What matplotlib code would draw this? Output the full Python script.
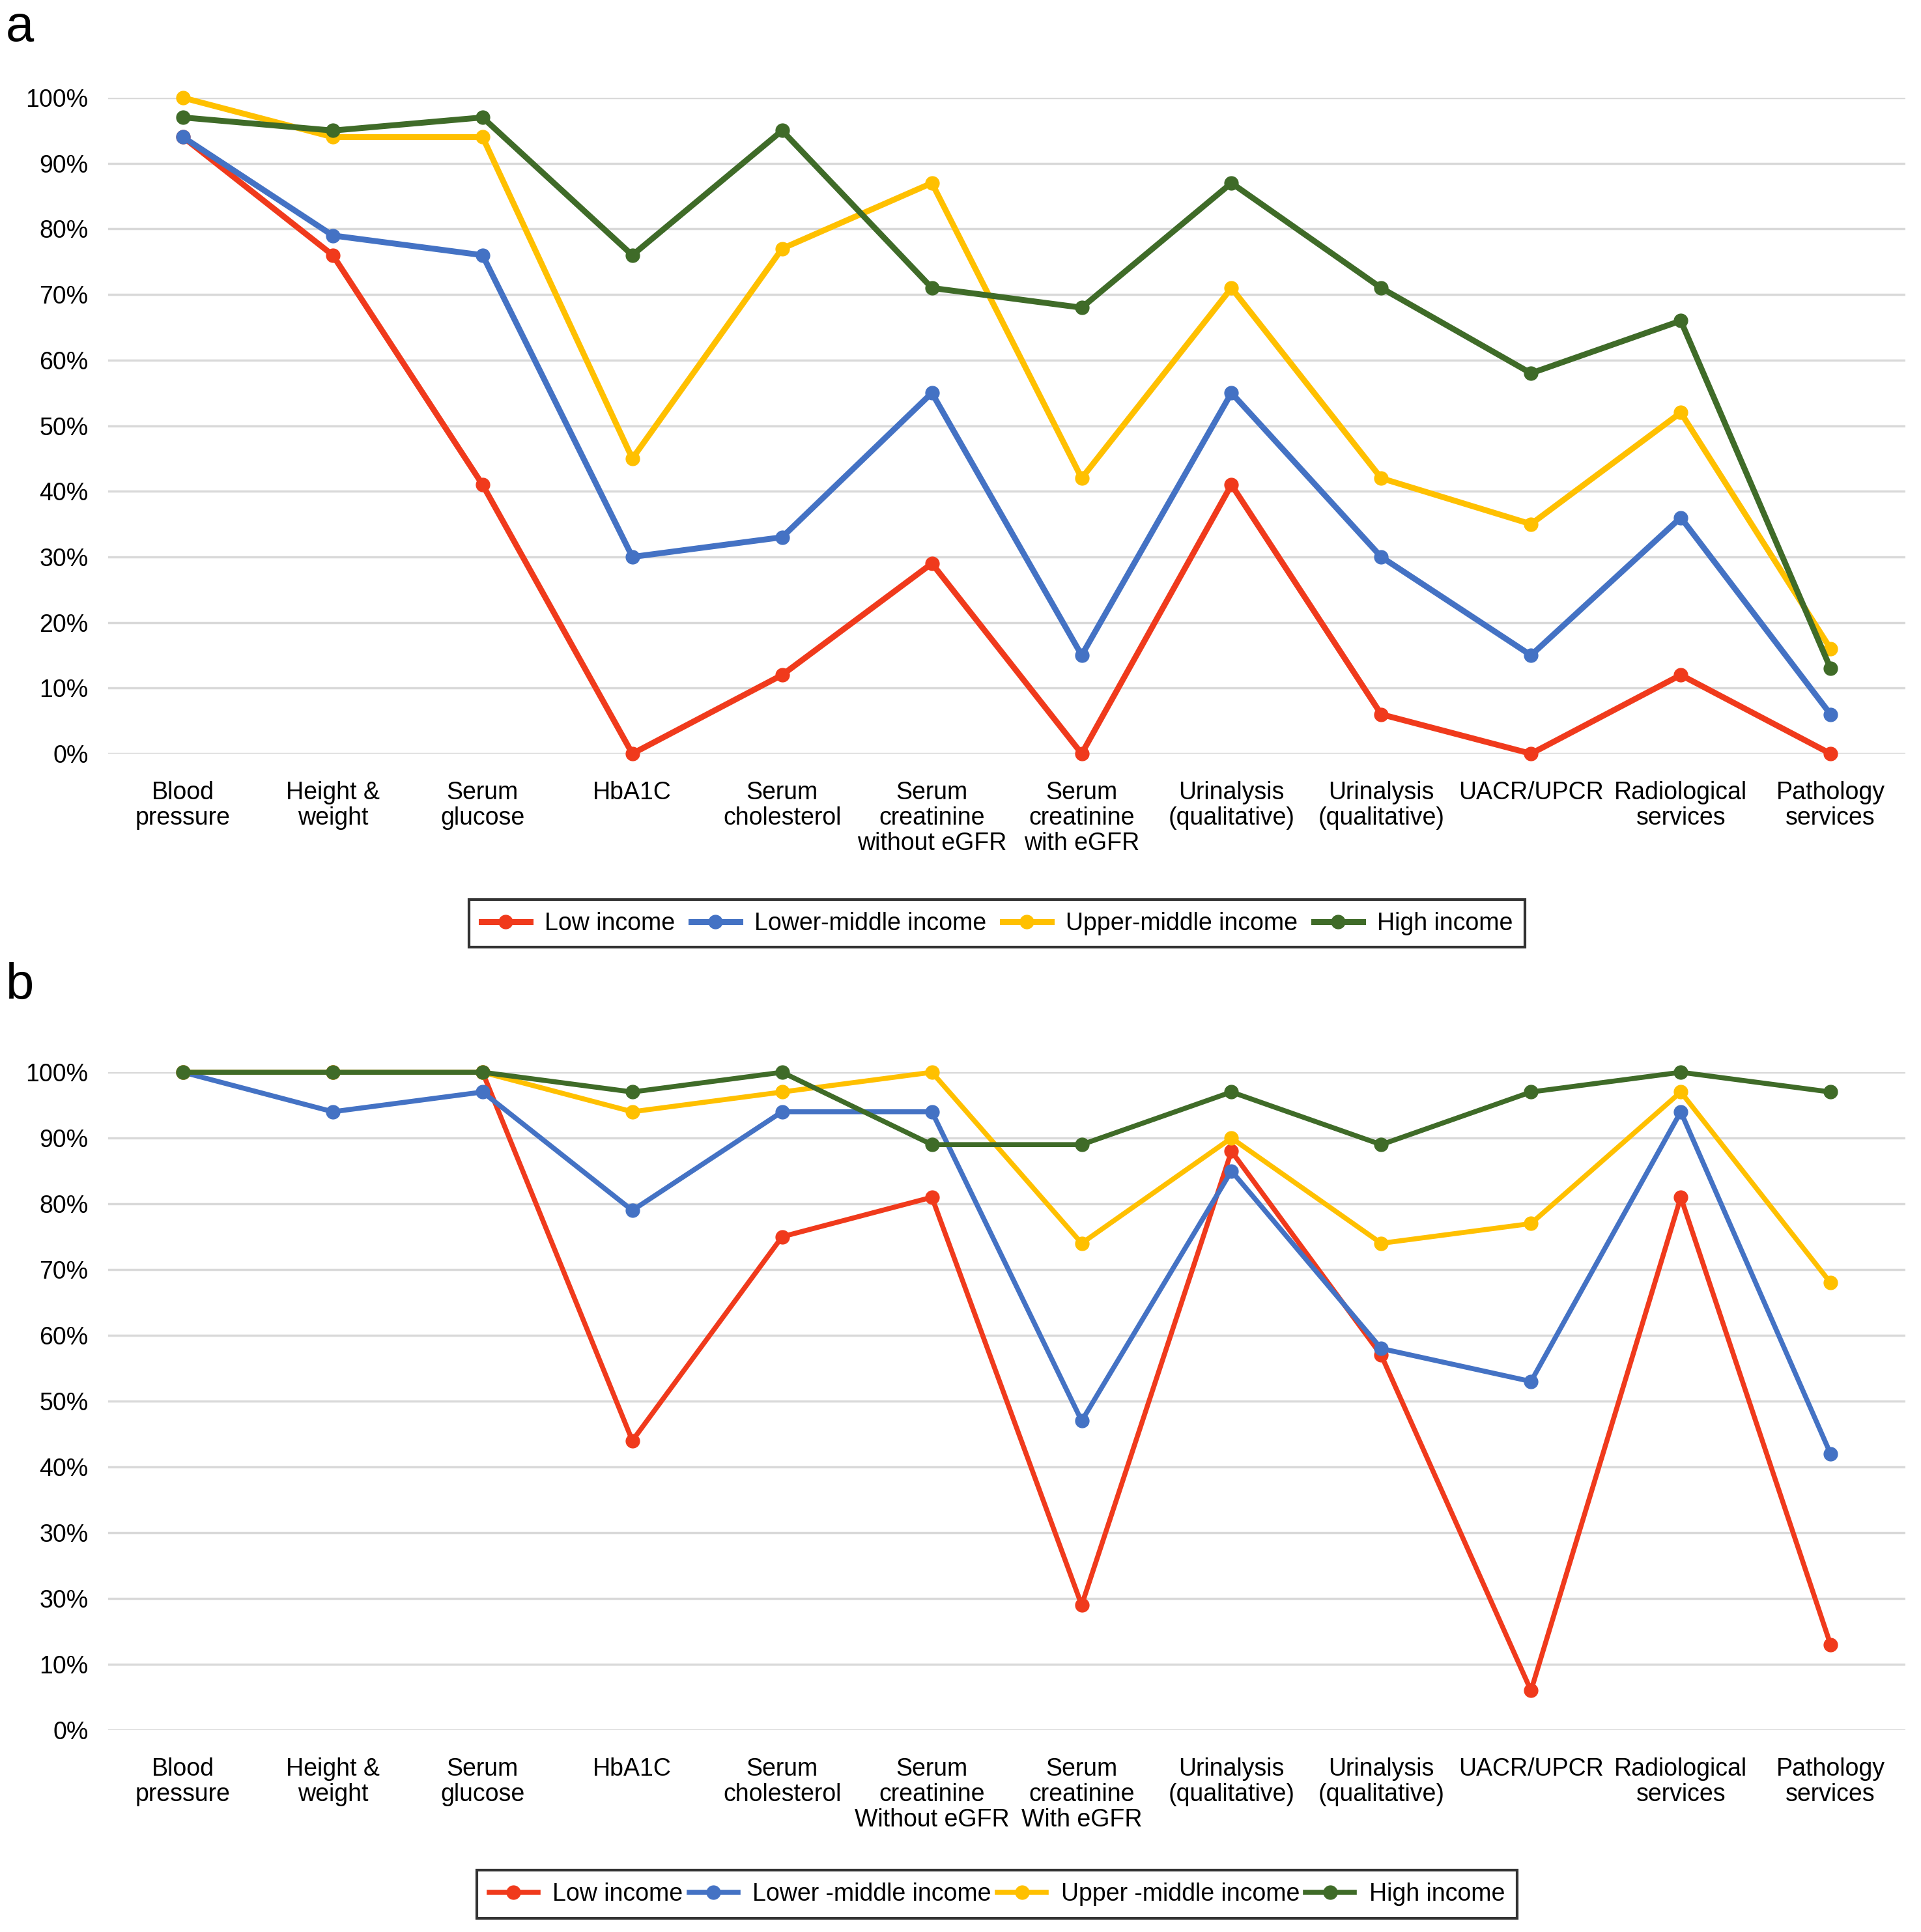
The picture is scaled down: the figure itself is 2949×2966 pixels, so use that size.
import matplotlib
matplotlib.use("Agg")
import matplotlib.pyplot as plt
from matplotlib import font_manager

# Fuente: preferir la versión estrecha si está instalada
nombres = {f.name for f in font_manager.fontManager.ttflist}
fuente = "Liberation Sans Narrow" if "Liberation Sans Narrow" in nombres else "Liberation Sans"
plt.rcParams["font.family"] = [fuente, "DejaVu Sans"]

# Datos
categorias_a = ["Blood\npressure", "Height &\nweight", "Serum\nglucose", "HbA1C",
                "Serum\ncholesterol", "Serum\ncreatinine\nwithout eGFR",
                "Serum\ncreatinine\nwith eGFR", "Urinalysis\n(qualitative)",
                "Urinalysis\n(qualitative)", "UACR/UPCR", "Radiological\nservices",
                "Pathology\nservices"]
categorias_b = ["Blood\npressure", "Height &\nweight", "Serum\nglucose", "HbA1C",
                "Serum\ncholesterol", "Serum\ncreatinine\nWithout eGFR",
                "Serum\ncreatinine\nWith eGFR", "Urinalysis\n(qualitative)",
                "Urinalysis\n(qualitative)", "UACR/UPCR", "Radiological\nservices",
                "Pathology\nservices"]

bajo_a = [94, 76, 41, 0, 12, 29, 0, 41, 6, 0, 12, 0]
medio_bajo_a = [94, 79, 76, 30, 33, 55, 15, 55, 30, 15, 36, 6]
medio_alto_a = [100, 94, 94, 45, 77, 87, 42, 71, 42, 35, 52, 16]
alto_a = [97, 95, 97, 76, 95, 71, 68, 87, 71, 58, 66, 13]

bajo_b = [100, 100, 100, 44, 75, 81, 19, 88, 57, 6, 81, 13]
medio_bajo_b = [100, 94, 97, 79, 94, 94, 47, 85, 58, 53, 94, 42]
medio_alto_b = [100, 100, 100, 94, 97, 100, 74, 90, 74, 77, 97, 68]
alto_b = [100, 100, 100, 97, 100, 89, 89, 97, 89, 97, 100, 97]

etiquetas_y_a = ["0%", "10%", "20%", "30%", "40%", "50%", "60%", "70%", "80%", "90%", "100%"]
etiquetas_y_b = ["0%", "10%", "30%", "30%", "40%", "50%", "60%", "70%", "80%", "90%", "100%"]

leyenda_a = ["Low income", "Lower-middle income", "Upper-middle income", "High income"]
leyenda_b = ["Low income", "Lower -middle income", "Upper -middle income", "High income"]

colores = ["#f03a1c", "#4472c4", "#ffc000", "#3f6b28"]

fig = plt.figure(figsize=(29.49, 29.66), dpi=100)
ax_a = fig.add_axes([0.0563, 0.6099, 0.9356, 0.3395])
ax_b = fig.add_axes([0.0563, 0.1045, 0.9356, 0.3405])


def dibujar(ax, categorias, series, etiquetas_y, nombres_ley, lw):
    x = list(range(len(categorias)))
    lineas = []
    for valores, color, nombre in zip(series, colores, nombres_ley):
        l, = ax.plot(x, [v / 100 for v in valores], color=color, lw=lw,
                     marker="o", markersize=15, label=nombre, clip_on=False,
                     zorder=3)
        lineas.append(l)
    ax.set_xlim(-0.5, len(categorias) - 0.5)
    ax.set_ylim(0, 1.0)
    ax.set_yticks([i / 10 for i in range(11)])
    ax.set_yticklabels(etiquetas_y, fontsize=27)
    ax.set_xticks(x)
    ax.set_xticklabels(categorias, fontsize=27, linespacing=1.12)
    ax.tick_params(length=0, axis="y", pad=22)
    ax.tick_params(length=0, axis="x", pad=30)
    ax.grid(axis="y", color="#d9d9d9", lw=2.5, zorder=0)
    for s in ax.spines.values():
        s.set_visible(False)
    return lineas


lineas_a = dibujar(ax_a, categorias_a, [bajo_a, medio_bajo_a, medio_alto_a, alto_a],
                   etiquetas_y_a, leyenda_a, 6.5)
lineas_b = dibujar(ax_b, categorias_b, [bajo_b, medio_bajo_b, medio_alto_b, alto_b],
                   etiquetas_y_b, leyenda_b, 5.5)

for lineas, nombres_ley, y, esp in [(lineas_a, leyenda_a, 0.522, 0.65),
                                    (lineas_b, leyenda_b, 0.0196, 0.25)]:
    ley = fig.legend(lineas, nombres_ley, loc="center", bbox_to_anchor=(0.519, y),
                     ncol=4, fontsize=27, frameon=True, fancybox=False,
                     handlelength=2.0, handletextpad=0.6, columnspacing=esp,
                     borderpad=0.5, edgecolor="black")
    ley.get_frame().set_linewidth(3)

fig.text(0.003, 0.998, "a", fontsize=56, va="top", ha="left")
fig.text(0.003, 0.502, "b", fontsize=56, va="top", ha="left")

fig.savefig("out.png", dpi=100)
